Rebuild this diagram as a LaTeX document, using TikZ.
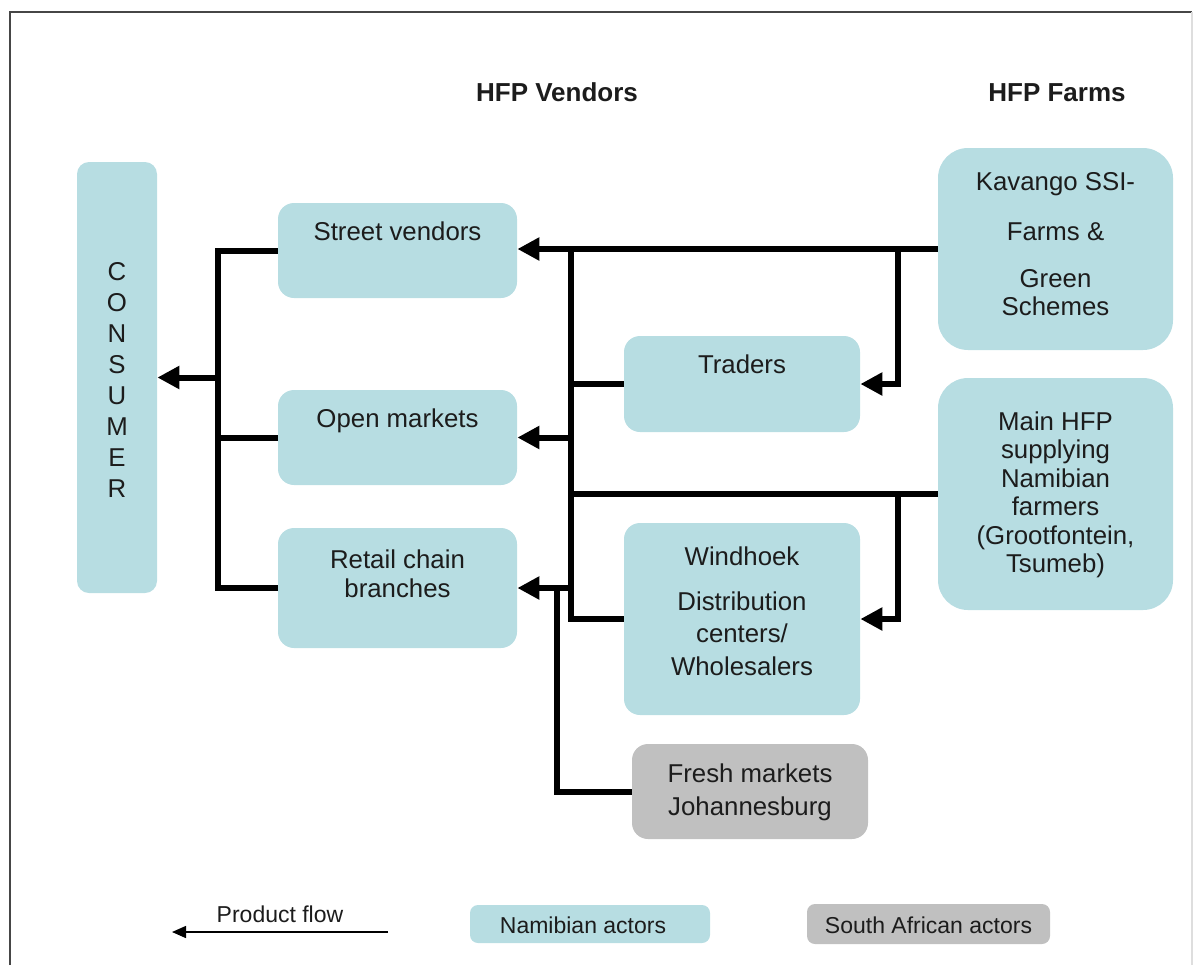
\documentclass[tikz,border=0pt]{standalone}
\usepackage{fontspec}
\setmainfont{Liberation Sans}
\usetikzlibrary{arrows.meta}

\definecolor{namfill}{RGB}{183,221,226}
\definecolor{safill}{RGB}{192,192,192}
\definecolor{ink}{RGB}{28,28,28}
\definecolor{framedark}{RGB}{70,70,70}
\definecolor{framelight}{RGB}{222,222,222}

\begin{document}
\begin{tikzpicture}[x=0.5pt,y=-0.5pt,
  box/.style={fill=namfill, draw=none, rounded corners=8pt, inner sep=0pt},
  sabox/.style={box, fill=safill},
  txt/.style={text=ink, font=\fontsize{12.9}{15.45}\selectfont, inner sep=0pt, anchor=base},
  head/.style={txt, font=\bfseries\fontsize{13}{15}\selectfont},
  legtxt/.style={txt, font=\fontsize{11.5}{14}\selectfont},
  link/.style={line width=3pt, draw=black, line join=miter},
  flow/.style={link, -{Triangle[length=11pt,width=11pt]}},
  thinflow/.style={line width=0.7pt, -{Triangle[length=7pt,width=6pt]}}
]
\useasboundingbox (0,0) rectangle (1194,965);

% frame
\draw[framedark, line width=1.2pt] (10,965) -- (10,12) -- (1192,12);
\draw[framelight, line width=0.6pt] (1192,12) -- (1192,965);

% column headings
\node[head] (hvend) at (557,101) {HFP Vendors};
\node[head] (hfarm) at (1057,101) {HFP Farms};

% consumer
\node[box, rounded corners=6pt, minimum width=40pt, minimum height=215.5pt] (con) at (117,377.5) {};
\node[txt, anchor=center, align=center] (cont) at (117,380) {C\\O\\N\\S\\U\\M\\E\\R};

% vendors
\node[box, minimum width=119.5pt, minimum height=47.5pt] (sv) at (397.5,250.5) {};
\node[txt] (svt) at (397.5,240) {Street vendors};
\node[box, minimum width=119.5pt, minimum height=47.5pt] (om) at (397.5,437.5) {};
\node[txt] (omt) at (397.5,427) {Open markets};
\node[box, minimum width=119.5pt, minimum height=60pt] (ret) at (397.5,588) {};
\node[txt] (rett1) at (397.5,568) {Retail chain};
\node[txt] (rett2) at (397.5,597) {branches};

% intermediaries
\node[box, minimum width=118pt, minimum height=48pt] (tr) at (742,384) {};
\node[txt] (trt) at (742,373) {Traders};
\node[box, minimum width=118pt, minimum height=96pt] (wh) at (742,619) {};
\node[txt] (wht1) at (742,565) {Windhoek};
\node[txt] (wht2) at (742,610) {Distribution};
\node[txt] (wht3) at (742,642) {centers/};
\node[txt] (wht4) at (742,675) {Wholesalers};
\node[sabox, minimum width=118pt, minimum height=47.5pt] (fr) at (750,791.5) {};
\node[txt] (frt1) at (750,782) {Fresh markets};
\node[txt] (frt2) at (750,815) {Johannesburg};

% farms
\node[box, rounded corners=15pt, minimum width=117.5pt, minimum height=101pt] (kav) at (1055.5,249) {};
\node[txt] (kavt1) at (1055.5,190) {Kavango SSI-};
\node[txt] (kavt2) at (1055.5,240) {Farms \&};
\node[txt] (kavt3) at (1055.5,287) {Green};
\node[txt] (kavt4) at (1055.5,315) {Schemes};
\node[box, rounded corners=15pt, minimum width=117.5pt, minimum height=116pt] (mhfp) at (1055.5,494) {};
\node[txt] (mt1) at (1055.5,430) {Main HFP};
\node[txt] (mt2) at (1055.5,458.5) {supplying};
\node[txt] (mt3) at (1055.5,487) {Namibian};
\node[txt] (mt4) at (1055.5,515.5) {farmers};
\node[txt] (mt5) at (1055.5,544) {(Grootfontein,};
\node[txt] (mt6) at (1055.5,572.5) {Tsumeb)};

% bus positions
\coordinate (lbus) at (218,0);
\coordinate (rbus) at (571,0);
\coordinate (fbus) at (557,0);
\coordinate (split) at (898,0);

% farms to vendors and intermediaries
\draw[flow] (kav.west) -- (kav.west -| sv.east);
\draw[flow] (kav.west -| split) |- (tr.east);
\draw[link] (mhfp.west) -- (mhfp.west -| rbus);
\draw[flow] (mhfp.west -| split) |- (wh.east);
\draw[link] (kav.west -| rbus) |- (wh.west);
\draw[link] (tr.west) -- (tr.west -| rbus);
\draw[flow] (om.east -| rbus) -- (om.east);
\draw[flow] (ret.east -| rbus) -- (ret.east);
\draw[link] (fr.west) -| (ret.east -| fbus);

% vendors to consumer
\draw[link] (sv.west) -- (sv.west -| lbus) -- (ret.west -| lbus) -- (ret.west);
\draw[link] (om.west) -- (om.west -| lbus);
\draw[flow] (con.east -| lbus) -- (con.east);

% legend
\node[legtxt] (pf) at (280,922) {Product flow};
\coordinate (pfa) at (388,932);
\coordinate (pfb) at (172,932);
\draw[thinflow] (pfa) -- (pfb);
\node[box, rounded corners=4pt, minimum width=120pt, minimum height=19pt] (lnam) at (590,924) {};
\node[legtxt] (lnamt) at (583,933) {Namibian actors};
\node[sabox, rounded corners=4pt, minimum width=121.5pt, minimum height=20pt] (lsa) at (928.5,924) {};
\node[legtxt] (lsat) at (928.5,933) {South African actors};
\end{tikzpicture}
\end{document}
